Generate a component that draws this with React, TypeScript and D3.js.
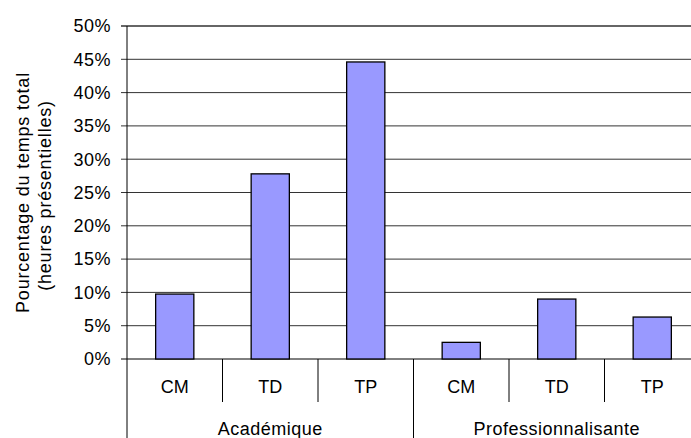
import React from "react";
import * as d3 from "d3";

const groups = ["Académique", "Professionnalisante"];
const types = ["CM", "TD", "TP"];
const values = [
  [9.75, 27.8, 44.6],
  [2.5, 9.0, 6.3],
];
const yTicks = [0, 5, 10, 15, 20, 25, 30, 35, 40, 45, 50];
const yTitle = ["Pourcentage du temps total", "(heures présentielles)"];

const W = 691;
const H = 438;
const M = { left: 127, top: 26, bottom: 359, right: 700 };
const FONT = "Liberation Sans, Arial, sans-serif";

export default function App() {
  const cats = groups.flatMap((g, gi) => types.map((t, ti) => ({ key: `${gi}-${t}`, g, gi, t, ti, v: values[gi][ti] })));
  const x = d3.scaleBand<string>().domain(cats.map((c) => c.key)).range([M.left, M.right]).paddingInner(0).paddingOuter(0);
  const y = d3.scaleLinear().domain([0, 50]).range([M.bottom, M.top]);
  const bw = x.bandwidth() * 0.4;
  const fs = 18;
  return (
    <svg width={W} height={H} style={{ position: "absolute", left: 0, top: 0, background: "#fff" }} fontFamily={FONT}>
      <rect x={0} y={0} width={W} height={H} fill="#fff" />
      {yTicks.map((t) => (
        <g key={t}>
          <line x1={M.left - 6} x2={M.right} y1={y(t)} y2={y(t)} stroke={t === 0 ? "#000" : "#333"} strokeWidth={t === 50 ? 1.6 : 1} />
          <text x={M.left - 16} y={y(t)} dy="0.35em" textAnchor="end" fontSize={fs} fill="#000" letterSpacing={0.5}>{`${t}%`}</text>
        </g>
      ))}
      {cats.map((c) => (
        <rect key={c.key} x={x(c.key)! + (x.bandwidth() - bw) / 2} y={y(c.v)} width={bw} height={y(0) - y(c.v)} fill="#9999FF" stroke="#000" strokeWidth={1.3} />
      ))}
      <line x1={M.left} x2={M.left} y1={M.top} y2={H} stroke="#000" strokeWidth={1} />
      {cats.map((c) => (
        <g key={"l" + c.key}>
          {c.ti > 0 && <line x1={x(c.key)!} x2={x(c.key)!} y1={M.bottom} y2={402} stroke="#000" />}
          {c.ti === 0 && c.gi > 0 && <line x1={x(c.key)!} x2={x(c.key)!} y1={M.bottom} y2={H} stroke="#000" />}
          <text x={x(c.key)! + x.bandwidth() / 2} y={387} dy="0.35em" textAnchor="middle" fontSize={fs}>{c.t}</text>
        </g>
      ))}
      {groups.map((g, gi) => {
        const x0 = x(`${gi}-CM`)!;
        const x1 = x(`${gi}-TP`)! + x.bandwidth();
        return (
          <text key={g} x={(x0 + x1) / 2} y={429} dy="0.35em" textAnchor="middle" fontSize={fs} letterSpacing={0.5}>{g}</text>
        );
      })}
      <text transform={`translate(23,${(M.top + M.bottom) / 2}) rotate(-90)`} textAnchor="middle" dy="0.35em" fontSize={fs} letterSpacing={0.8}>{yTitle[0]}</text>
      <text transform={`translate(45,${(M.top + M.bottom) / 2 + 3}) rotate(-90)`} textAnchor="middle" dy="0.35em" fontSize={fs} letterSpacing={0.8}>{yTitle[1]}</text>
    </svg>
  );
}
